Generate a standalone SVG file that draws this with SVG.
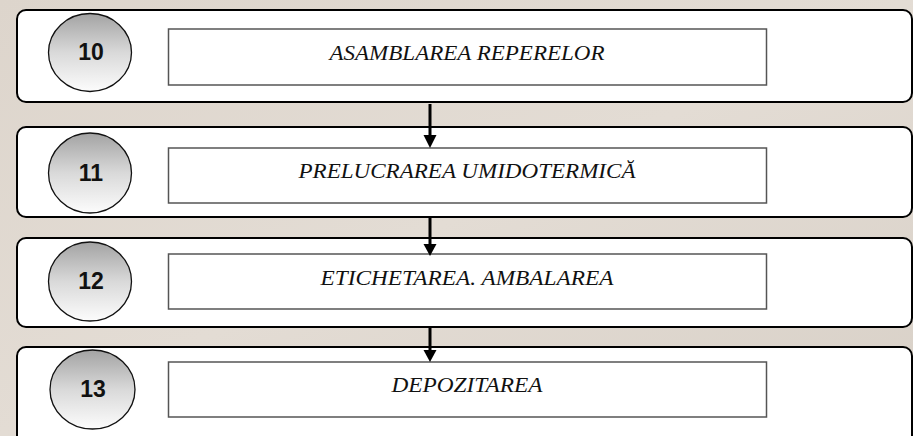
<svg xmlns="http://www.w3.org/2000/svg" width="913" height="436" viewBox="0 0 913 436">
<defs>
<linearGradient id="bg" x1="0" y1="0" x2="1" y2="1">
<stop offset="0" stop-color="#ddd5cc"/>
<stop offset="0.5" stop-color="#e3dcd4"/>
<stop offset="1" stop-color="#d8d0c7"/>
</linearGradient>
<linearGradient id="ball" x1="0" y1="0" x2="0" y2="1">
<stop offset="0" stop-color="#a3a3a3"/>
<stop offset="0.5" stop-color="#d9d9d9"/>
<stop offset="1" stop-color="#fcfcfc"/>
</linearGradient>
<style>
.outer{fill:#fff;stroke:#000;stroke-width:2}
.inner{fill:#fff;stroke:#555;stroke-width:1.5}
.ball{fill:url(#ball);stroke:#111;stroke-width:1.3}
.num{font-family:"Liberation Sans",Arial,sans-serif;font-weight:bold;font-size:23px;fill:#111;text-anchor:middle}
.lbl{font-family:"Liberation Serif","Times New Roman",serif;font-style:italic;font-size:20px;fill:#111;text-anchor:middle}
.conn{stroke:#000;stroke-width:3;fill:none}
.head{fill:#000}
</style>
</defs>
<rect x="0" y="0" width="913" height="436" fill="url(#bg)"/>

<g id="step10">
<rect class="outer" x="17" y="10" width="895" height="92" rx="9"/>
<ellipse class="ball" cx="90" cy="52.5" rx="41.5" ry="39"/>
<text class="num" x="91" y="60">10</text>
<rect class="inner" x="168.5" y="29" width="598" height="56"/>
<text class="lbl" x="467" y="60" textLength="275" lengthAdjust="spacingAndGlyphs">ASAMBLAREA REPERELOR</text>
</g>

<g id="step11">
<rect class="outer" x="17" y="127" width="895" height="90" rx="9"/>
<ellipse class="ball" cx="90" cy="173" rx="41.5" ry="40"/>
<text class="num" x="91" y="181">11</text>
<rect class="inner" x="168.5" y="148" width="598" height="55"/>
<text class="lbl" x="467" y="178" textLength="337" lengthAdjust="spacingAndGlyphs">PRELUCRAREA UMIDOTERMICĂ</text>
</g>

<g id="step12">
<rect class="outer" x="17" y="238" width="895" height="89" rx="9"/>
<ellipse class="ball" cx="90" cy="281.5" rx="41.5" ry="39.5"/>
<text class="num" x="91" y="289">12</text>
<rect class="inner" x="168.5" y="254" width="598" height="55"/>
<text class="lbl" x="467" y="285" textLength="293" lengthAdjust="spacingAndGlyphs">ETICHETAREA. AMBALAREA</text>
</g>

<g id="step13">
<rect class="outer" x="17" y="347" width="895" height="100" rx="9"/>
<ellipse class="ball" cx="92.5" cy="389.5" rx="42.5" ry="39.5"/>
<text class="num" x="93" y="397">13</text>
<rect class="inner" x="168.5" y="362" width="598" height="55"/>
<text class="lbl" x="467" y="392" textLength="151" lengthAdjust="spacingAndGlyphs">DEPOZITAREA</text>
</g>

<g id="connectors">
<line class="conn" x1="430" y1="104" x2="430" y2="136"/>
<polygon class="head" points="423.5,135 436.5,135 430,148"/>
<line class="conn" x1="430" y1="218" x2="430" y2="245"/>
<polygon class="head" points="423.5,244 436.5,244 430,256"/>
<line class="conn" x1="430" y1="328" x2="430" y2="351"/>
<polygon class="head" points="423.5,350 436.5,350 430,362"/>
</g>
</svg>
